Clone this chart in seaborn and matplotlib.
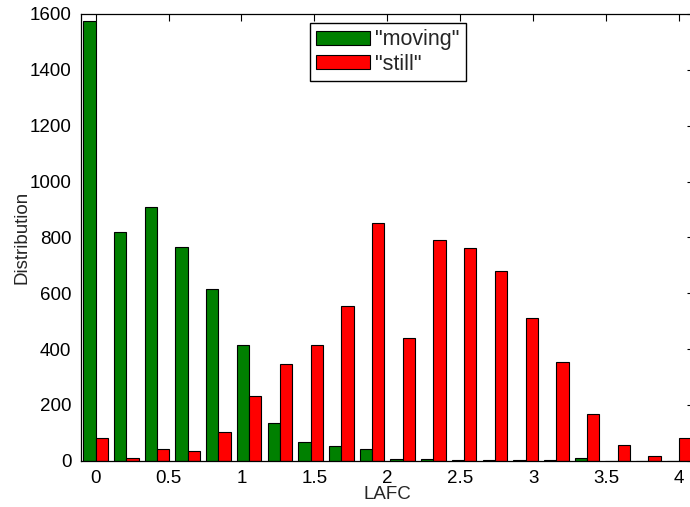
import numpy as np
import pandas as pd
import matplotlib
matplotlib.use("Agg")
import matplotlib.pyplot as plt
import seaborn as sns
from matplotlib.patches import Patch

# bin centres (20 bins between 0 and 4)
bins = np.linspace(0, 4, 20)

moving = [1575, 820, 910, 767, 614, 413, 134, 66, 51, 42,
          5, 5, 1, 2, 1, 1, 8, 0, 0, 0]
still = [82, 10, 42, 34, 102, 232, 345, 414, 554, 850,
         440, 790, 762, 679, 511, 352, 166, 55, 17, 81]

series_names = ['"moving"', '"still"']
colors = ["#008000", "#ff0000"]

df = pd.DataFrame({
    "LAFC": np.concatenate([bins, bins]),
    "count": moving + still,
    "series": [series_names[0]] * len(bins) + [series_names[1]] * len(bins),
})

sns.set_style("white")
plt.rcParams["font.family"] = ["Liberation Sans", "DejaVu Sans"]
plt.rcParams["xtick.direction"] = "in"
plt.rcParams["ytick.direction"] = "in"

fig = plt.figure(figsize=(6.9, 5.07), dpi=100)
ax = fig.add_axes([0.1174, 0.0913, 0.888, 0.8811])

sns.barplot(data=df, x="LAFC", y="count", hue="series", native_scale=True,
            palette=colors, saturation=1, width=0.8, edgecolor="black",
            linewidth=0.8, ax=ax, legend=False)

ax.set_xlim(-0.1, 4.1)
ax.set_ylim(0, 1600)
ax.set_xticks([0, 0.5, 1, 1.5, 2, 2.5, 3, 3.5, 4])
ax.set_xticklabels(["0", "0.5", "1", "1.5", "2", "2.5", "3", "3.5", "4"])
ax.set_yticks(range(0, 1601, 200))
ax.tick_params(axis="both", labelsize=13.5, length=5, width=0.8,
               top=True, right=True, pad=7, colors="black")
for s in ax.spines.values():
    s.set_color("black")
    s.set_linewidth(0.9)

ax.set_xlabel("LAFC", fontsize=13.5, labelpad=-1)
ax.set_ylabel("Distribution", fontsize=13.5, labelpad=-1)

handles = [Patch(facecolor=c, edgecolor="black", linewidth=0.8) for c in colors]
ax.legend(handles, series_names, loc="upper left",
          bbox_to_anchor=(0.373, 0.98), fontsize=15.5, frameon=True,
          fancybox=False, edgecolor="black", framealpha=1,
          handlelength=2.5, handleheight=0.65, borderpad=0.3,
          labelspacing=0.15, handletextpad=0.25, borderaxespad=0)

fig.savefig("out.png", dpi=100)
